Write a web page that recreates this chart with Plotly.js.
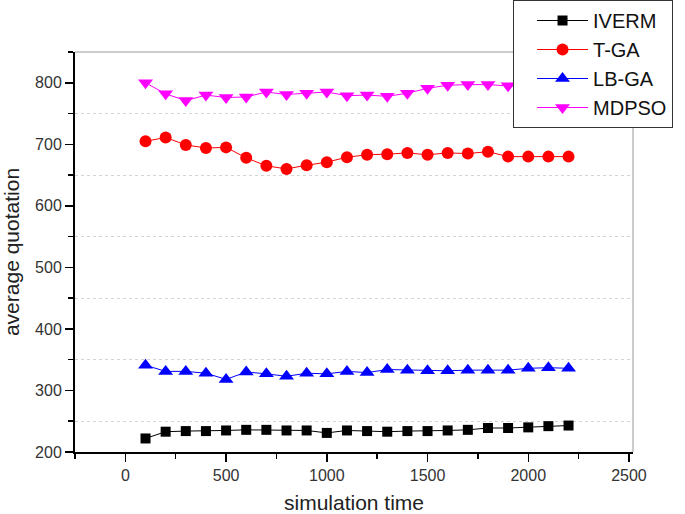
<!DOCTYPE html>
<html>
<head>
<meta charset="utf-8">
<script src="https://cdn.plot.ly/plotly-3.0.1.min.js"></script>
<style>html,body{margin:0;padding:0;background:#fff;}#chart{width:685px;height:514px;}</style>
</head>
<body>
<div id="chart"></div>
<script>
const simulationTime = [100,200,300,400,500,600,700,800,900,1000,1100,1200,1300,1400,1500,1600,1700,1800,1900,2000,2100,2200];
const iverm = [222,233,234,234,235,236,236,235,235,231,235,234,233,234,234,235,236,239,239,240,242,243];
const tga = [705,711,699,694,695,678,665,660,666,671,679,683,684,686,683,686,685,688,680,680,680,680];
const lbga = [341,331,331,328,318,330,327,323,328,327,331,329,334,333,332,332,333,333,333,336,337,336];
const mdpso = [800,782,771,780,776,777,785,781,783,785,779,780,778,783,791,796,797,797,795,796,797,798];
const seriesNames = ['IVERM','T-GA','LB-GA','MDPSO'];

const font = {family: 'Arial, "Liberation Sans", sans-serif', color: '#222'};

const traces = [
  {x: simulationTime, y: iverm, name: seriesNames[0], mode: 'lines+markers',
   line: {color: '#000000', width: 1}, marker: {symbol: 'square', size: 10, color: '#000000'}},
  {x: simulationTime, y: tga, name: seriesNames[1], mode: 'lines+markers',
   line: {color: '#ff0000', width: 1}, marker: {symbol: 'circle', size: 12, color: '#ff0000'}},
  {x: simulationTime, y: lbga, name: seriesNames[2], mode: 'lines+markers',
   line: {color: '#0000ff', width: 1}, marker: {symbol: 'triangle-up', size: 13, color: '#0000ff'}},
  {x: simulationTime, y: mdpso, name: seriesNames[3], mode: 'lines+markers',
   line: {color: '#ff00ff', width: 1}, marker: {symbol: 'triangle-down', size: 13, color: '#ff00ff'}}
];

const layout = {
  width: 685, height: 514,
  margin: {l: 75, r: 52, t: 52, b: 62, autoexpand: false},
  paper_bgcolor: '#ffffff', plot_bgcolor: '#ffffff',
  font: font,
  showlegend: true,
  legend: {x: 0.785, y: 1.13, xanchor: 'left', yanchor: 'top',
    bgcolor: '#ffffff', bordercolor: '#333333', borderwidth: 1,
    itemwidth: 51, indentation: 18,
    font: {family: font.family, size: 20, color: '#111'}, tracegroupgap: 0},
  xaxis: {
    range: [-250, 2520], tickmode: 'linear', tick0: 0, dtick: 500,
    showgrid: false, zeroline: false,
    showline: true, linecolor: '#000', linewidth: 2,
    ticks: 'outside', ticklen: 8, tickwidth: 1.5, tickcolor: '#000',
    minor: {tick0: 0, dtick: 250, ticks: 'outside', ticklen: 5, tickwidth: 1.5, tickcolor: '#000', showgrid: false},
    tickfont: {family: font.family, size: 16, color: '#333'},
    title: {text: 'simulation time', font: {family: font.family, size: 21, color: '#222'}, standoff: 21}
  },
  yaxis: {
    range: [200, 850], tickmode: 'linear', tick0: 200, dtick: 100,
    showgrid: false, zeroline: false,
    showline: true, linecolor: '#000', linewidth: 2,
    ticks: 'outside', ticklen: 8, tickwidth: 1.5, tickcolor: '#000',
    minor: {tick0: 250, dtick: 50, ticks: 'outside', ticklen: 5, tickwidth: 1.5, tickcolor: '#000',
      showgrid: true, gridcolor: '#d4d4d4', griddash: 'dot', gridwidth: 1},
    tickfont: {family: font.family, size: 16, color: '#333'},
    title: {text: 'average quotation', font: {family: font.family, size: 21, color: '#222'}, standoff: 10}
  },
  shapes: [
    {type: 'line', xref: 'paper', yref: 'paper', x0: 0, x1: 1, y0: 1, y1: 1, line: {color: '#999', width: 1}, layer: 'below'},
    {type: 'line', xref: 'paper', yref: 'paper', x0: 1, x1: 1, y0: 0, y1: 1, line: {color: '#999', width: 1}, layer: 'below'}
  ]
};

Plotly.newPlot('chart', traces, layout, {displayModeBar: false, staticPlot: true});
</script>
</body>
</html>
